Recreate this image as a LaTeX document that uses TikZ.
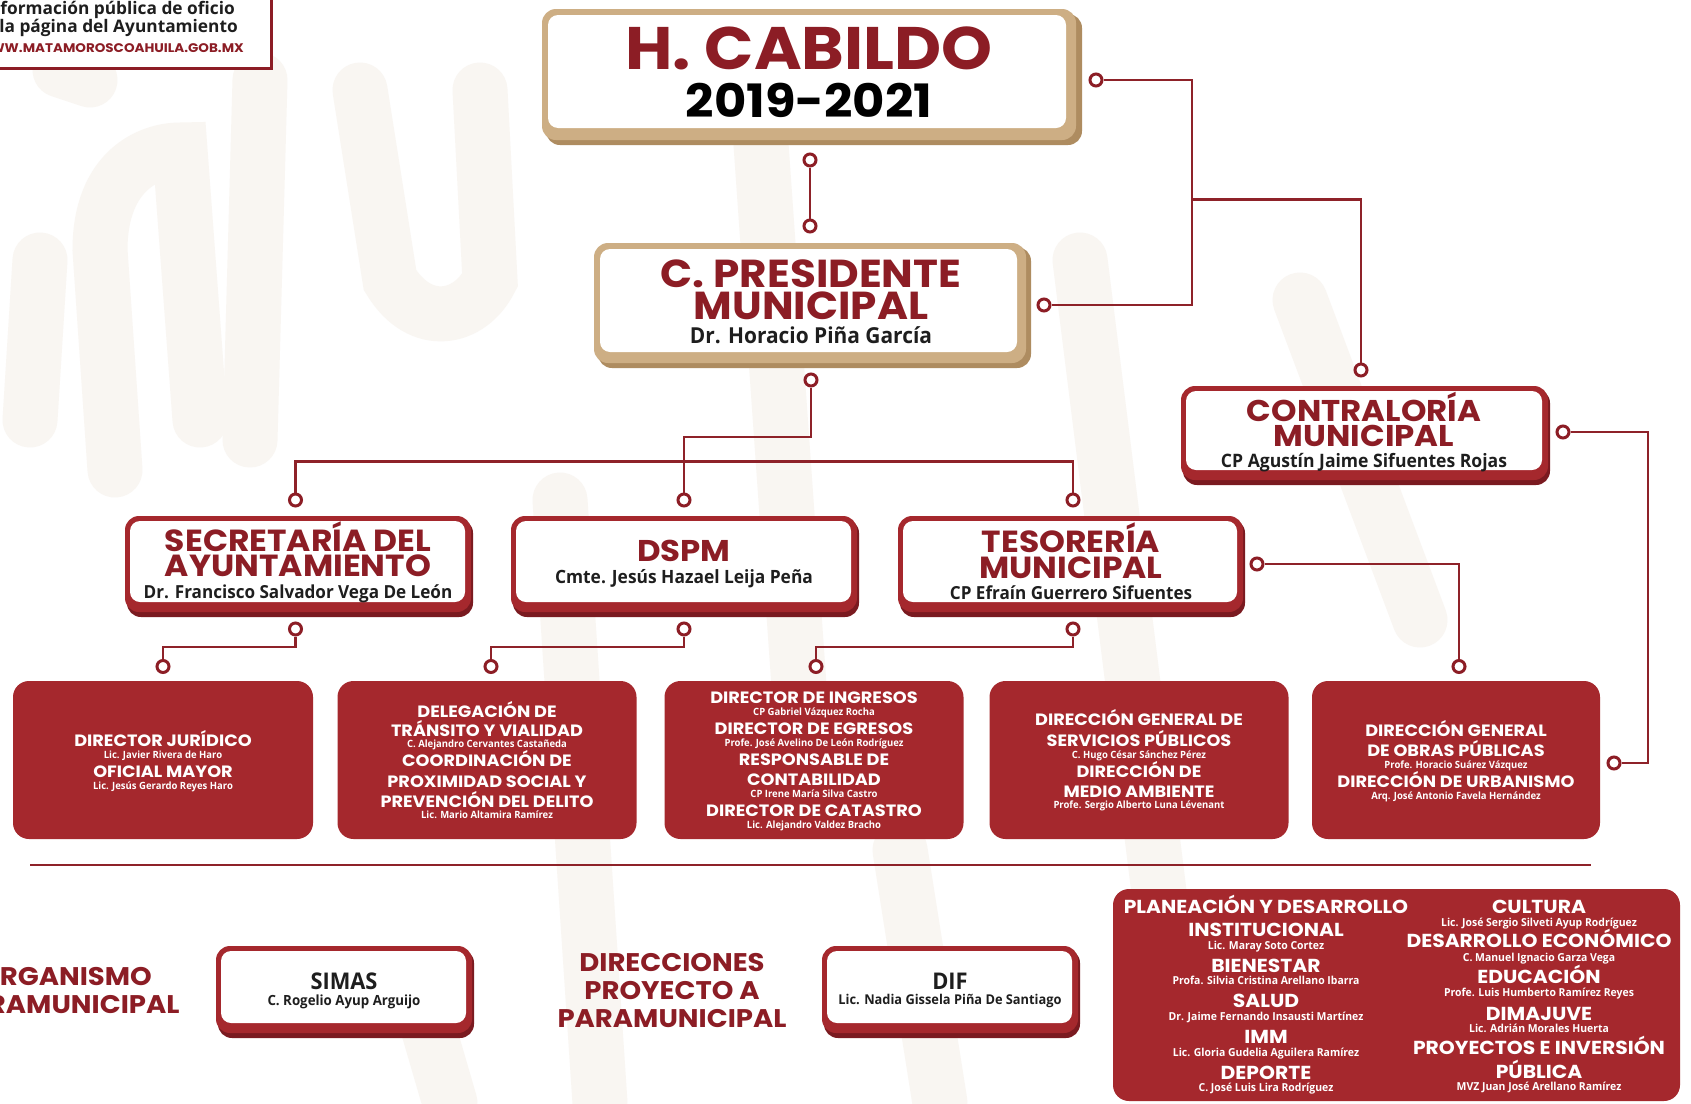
\documentclass[tikz,border=0pt]{standalone}
\usepackage{fontspec}
\setmainfont{Open Sans}
\newfontfamily\pop{Poppins}[FakeStretch=1.08]
\newfontfamily\nm{Open Sans}[FakeStretch=0.95]
\definecolor{cRed}{HTML}{A5282D}
\definecolor{cDark}{HTML}{8C1D25}
\definecolor{cLine}{HTML}{8E2229}
\definecolor{cShadow}{HTML}{7A1A20}
\definecolor{cGold}{HTML}{CDAE84}
\definecolor{cGoldD}{HTML}{AE8C60}
\definecolor{wm}{HTML}{F9F6F2}
\definecolor{cInk}{HTML}{1E1E1E}
\tikzset{
  conn/.style={draw=cLine, line width=2.6pt},
  dot/.style={circle, draw=cDark, line width=3pt, fill=white, inner sep=0pt, minimum size=12pt},
  rbox/.style={fill=cRed, rounded corners=16pt, inner sep=0pt},
  hr/.style={font=\pop\bfseries\fontsize{#1}{#1}\selectfont, text=cDark},
  hk/.style={font=\pop\bfseries\fontsize{#1}{#1}\selectfont, text=black},
  hw/.style={font=\pop\bfseries\fontsize{#1}{#1}\selectfont, text=white},
  nk/.style={font=\nm\bfseries\fontsize{#1}{#1}\selectfont, text=cInk},
  nw/.style={font=\nm\bfseries\fontsize{#1}{#1}\selectfont, text=white},
  ik/.style={font=\bfseries\fontsize{#1}{#1}\selectfont, text=cInk},
  wmk/.style={draw=wm, line width=55pt, line cap=round},
}
% #1 name, #2 x, #3 y (visual centre of caps), #4 size, #5 style, #6 text
\newcommand\tx[6]{\node[anchor=base,inner sep=0pt,#5=#4] (#1) at (#2,{#3+0.36*#4}) {#6};}
\newcommand\txr[6]{\node[anchor=base east,inner sep=0pt,#5=#4] (#1) at (#2,{#3+0.36*#4}) {#6};}
% #1 name, #2 x1, #3 y1, #4 x2, #5 y2, #6 outer colour, #7 shadow colour
\newcommand\wbox[7]{%
  \fill[#7, rounded corners=14pt] (#2+2,#3+3) rectangle (#4+2,#5+3);
  \node[fill=#6, rounded corners=14pt, inner sep=0pt, minimum width={(#4-#2)*1pt}, minimum height={(#5-#3-2)*1pt}] (#1) at ({(#2+#4)/2},{(#3+#5-2)/2}) {};
  \fill[white, rounded corners=10pt] (#2+5,#3+5) rectangle (#4-6,#5-12);
}
\begin{document}
\begin{tikzpicture}[x=1pt,y=-1pt]
\useasboundingbox (0,0) rectangle (1691,1103);
\clip (0,0) rectangle (1691,1103);
\fill[white] (0,0) rectangle (1691,1103);
% faint watermark
\draw[wmk] (115,470) -- (100,250) .. controls (100,170) and (150,150) .. (180,150) -- (200,420);
\draw[wmk] (260,80) -- (250,440);
\draw[wmk] (360,90) -- (390,280) .. controls (420,330) and (470,320) .. (490,280) -- (480,90);
\draw[wmk] (30,420) -- (40,260);
\draw[wmk] (60,70) -- (90,80);
\draw[wmk] (560,500) -- (600,1103);
\draw[wmk] (760,130) -- (800,700);
\draw[wmk] (1080,260) -- (1160,900);
\draw[wmk] (1300,300) -- (1420,620);
\draw[wmk] (420,1000) -- (450,1103);
\draw[wmk] (900,850) -- (940,1103);

% info box
\node[draw=cDark, line width=3pt, fill=white, minimum width=340pt, minimum height=100pt, anchor=south east, inner sep=0pt] (info) at (273,70) {};
\txr{inf1}{235}{8}{17.3}{ik}{Información pública de oficio}
\txr{inf2}{238}{26}{17.3}{ik}{en la página del Ayuntamiento}
\txr{inf3}{244}{48}{12.5}{hr}{WWW.MATAMOROSCOAHUILA.GOB.MX}

% H. CABILDO
\fill[cGoldD, rounded corners=14pt] (546,14) rectangle (1082,145);
\node[fill=cGold, rounded corners=14pt, inner sep=0pt, minimum width=534pt, minimum height=131pt] (cab) at (809,74.5) {};
\fill[white, rounded corners=10pt] (548,15) rectangle (1066,128);
\tx{cabA}{809}{48}{60}{hr}{H. CABILDO}
\tx{cabB}{809}{101}{46}{hk}{2019-2021}

% C. PRESIDENTE
\fill[cGoldD, rounded corners=14pt] (598,247) rectangle (1031,368);
\node[fill=cGold, rounded corners=14pt, inner sep=0pt, minimum width=432pt, minimum height=120pt] (pre) at (810,303) {};
\fill[white, rounded corners=10pt] (600,249) rectangle (1017,352);
\tx{preA}{811}{273}{39}{hr}{C. PRESIDENTE}
\tx{preB}{811}{305}{39}{hr}{MUNICIPAL}
\tx{preC}{811}{336}{22}{nk}{Dr. Horacio Piña García}

% CONTRALORIA
\wbox{con}{1181}{386}{1548}{482}{cRed}{cShadow}
\tx{conA}{1364}{411}{30}{hr}{CONTRALORÍA}
\tx{conB}{1364}{436}{30}{hr}{MUNICIPAL}
\tx{conC}{1364}{461}{18.5}{nk}{CP Agustín Jaime Sifuentes Rojas}

% second level
\wbox{sec}{125}{516}{471}{614}{cRed}{cShadow}
\tx{secA}{298}{541}{30.5}{hr}{SECRETARÍA DEL}
\tx{secB}{298}{566}{30.5}{hr}{AYUNTAMIENTO}
\tx{secC}{298}{592}{18}{nk}{Dr. Francisco Salvador Vega De León}
\wbox{dsp}{511}{516}{857}{614}{cRed}{cShadow}
\tx{dspA}{684}{551}{30}{hr}{DSPM}
\tx{dspB}{684}{577}{18.3}{nk}{Cmte. Jesús Hazael Leija Peña}
\wbox{tes}{898}{516}{1243}{614}{cRed}{cShadow}
\tx{tesA}{1071}{542}{30.5}{hr}{TESORERÍA}
\tx{tesB}{1071}{568}{30.5}{hr}{MUNICIPAL}
\tx{tesC}{1071}{593}{18}{nk}{CP Efraín Guerrero Sifuentes}

% third level red boxes
\node[rbox, minimum width=300pt, minimum height=158pt] (r1) at (163,760) {};
\node[rbox, minimum width=299pt, minimum height=158pt] (r2) at (487,760) {};
\node[rbox, minimum width=299pt, minimum height=158pt] (r3) at (814,760) {};
\node[rbox, minimum width=299pt, minimum height=158pt] (r4) at (1139,760) {};
\node[rbox, minimum width=288pt, minimum height=158pt] (r5) at (1456,760) {};

\tx{r1a}{163}{741}{16.4}{hw}{DIRECTOR JURÍDICO}
\tx{r1b}{163}{755}{10}{nw}{Lic. Javier Rivera de Haro}
\tx{r1c}{163}{772}{16.4}{hw}{OFICIAL MAYOR}
\tx{r1d}{163}{786}{10}{nw}{Lic. Jesús Gerardo Reyes Haro}

\tx{r2a}{487}{712}{16.4}{hw}{DELEGACIÓN DE}
\tx{r2b}{487}{731}{16.4}{hw}{TRÁNSITO Y VIALIDAD}
\tx{r2c}{487}{744}{10}{nw}{C. Alejandro Cervantes Castañeda}
\tx{r2d}{487}{761}{16.4}{hw}{COORDINACIÓN DE}
\tx{r2e}{487}{782}{16.4}{hw}{PROXIMIDAD SOCIAL Y}
\tx{r2f}{487}{802}{16.4}{hw}{PREVENCIÓN DEL DELITO}
\tx{r2g}{487}{815}{10}{nw}{Lic. Mario Altamira Ramírez}

\tx{r3a}{814}{698}{16.4}{hw}{DIRECTOR DE INGRESOS}
\tx{r3b}{814}{712}{10}{nw}{CP Gabriel Vázquez Rocha}
\tx{r3c}{814}{729}{16.4}{hw}{DIRECTOR DE EGRESOS}
\tx{r3d}{814}{743}{10}{nw}{Profe. José Avelino De León Rodríguez}
\tx{r3e}{814}{760}{16.4}{hw}{RESPONSABLE DE}
\tx{r3f}{814}{780}{16.4}{hw}{CONTABILIDAD}
\tx{r3g}{814}{794}{10}{nw}{CP Irene María Silva Castro}
\tx{r3h}{814}{811}{16.4}{hw}{DIRECTOR DE CATASTRO}
\tx{r3i}{814}{825}{10}{nw}{Lic. Alejandro Valdez Bracho}

\tx{r4a}{1139}{720}{16.4}{hw}{DIRECCIÓN GENERAL DE}
\tx{r4b}{1139}{741}{16.4}{hw}{SERVICIOS PÚBLICOS}
\tx{r4c}{1139}{755}{10}{nw}{C. Hugo César Sánchez Pérez}
\tx{r4d}{1139}{772}{16.4}{hw}{DIRECCIÓN DE}
\tx{r4e}{1139}{791.5}{16.4}{hw}{MEDIO AMBIENTE}
\tx{r4f}{1139}{804.5}{10}{nw}{Profe. Sergio Alberto Luna Lévenant}

\tx{r5a}{1456}{731}{16.4}{hw}{DIRECCIÓN GENERAL}
\tx{r5b}{1456}{750.6}{16.4}{hw}{DE OBRAS PÚBLICAS}
\tx{r5c}{1456}{764.6}{10}{nw}{Profe. Horacio Suárez Vázquez}
\tx{r5d}{1456}{782}{16.4}{hw}{DIRECCIÓN DE URBANISMO}
\tx{r5e}{1456}{796}{10}{nw}{Arq. José Antonio Favela Hernández}

% dots
\node[dot] (cabB0) at (810,160) {};
\node[dot] (preT) at (810,226) {};
\node[dot] (cabR) at (1096,80) {};
\node[dot] (preR) at (1044,305) {};
\node[dot] (preB0) at (811,380) {};
\node[dot] (conT) at (1361,370) {};
\node[dot] (conR) at (1563,432) {};
\node[dot] (r5R) at (1614,763) {};
\node[dot] (secT) at (295.5,500) {};
\node[dot] (dspT) at (684,500) {};
\node[dot] (tesT) at (1073,500) {};
\node[dot] (secBt) at (295.5,629) {};
\node[dot] (dspBt) at (684,629) {};
\node[dot] (tesBt) at (1073,629) {};
\node[dot] (tesR) at (1257,564) {};
\node[dot] (r1T) at (163,666.5) {};
\node[dot] (r2T) at (491,666.5) {};
\node[dot] (r3T) at (816,666.5) {};
\node[dot] (r5T) at (1459,666.5) {};

% junctions
\coordinate (jv) at (1192,199.5);
\coordinate (jc) at (1648,600);
\coordinate (jp) at (684,437);
\coordinate (bus) at (684,461.5);
\coordinate (j1) at (230,647);
\coordinate (j2) at (600,647);
\coordinate (j3) at (950,647);

% connectors
\draw[conn] (cabB0) -- (preT);
\draw[conn] (cabR) -| (jv) |- (preR);
\draw[conn] (jv) -| (conT);
\draw[conn] (conR) -| (jc) |- (r5R);
\draw[conn] (preB0) |- (jp) -- (dspT);
\draw[conn] (secT) |- (bus) -| (tesT);
\draw[conn] (secBt) |- (j1) -| (r1T);
\draw[conn] (dspBt) |- (j2) -| (r2T);
\draw[conn] (tesBt) |- (j3) -| (r3T);
\draw[conn] (tesR) -| (r5T);

% separator
\draw[cLine, line width=2.5pt] (30,865) -- (1591,865);

% bottom row
\tx{orgA}{65}{976}{25.5}{hr}{ORGANISMO}
\tx{orgB}{65}{1004}{25.5}{hr}{PARAMUNICIPAL}
\wbox{sim}{216}{946}{472}{1035}{cRed}{cShadow}
\tx{simA}{344}{981}{23}{nk}{SIMAS}
\tx{simB}{344}{1000}{14}{nk}{C. Rogelio Ayup Arguijo}
\tx{dirA}{672}{962}{25.5}{hr}{DIRECCIONES}
\tx{dirB}{672}{990}{25.5}{hr}{PROYECTO A}
\tx{dirC}{672}{1018}{25.5}{hr}{PARAMUNICIPAL}
\wbox{dif}{822}{946}{1078}{1035}{cRed}{cShadow}
\tx{difA}{950}{981}{23}{nk}{DIF}
\tx{difB}{950}{1000}{13.5}{nk}{Lic. Nadia Gissela Piña De Santiago}

\node[rbox, minimum width=567pt, minimum height=212pt] (big) at (1396.5,995) {};
\tx{bL1}{1266}{907}{18.8}{hw}{PLANEACIÓN Y DESARROLLO}
\tx{bL2}{1266}{930}{18.8}{hw}{INSTITUCIONAL}
\tx{bL3}{1266}{946}{11}{nw}{Lic. Maray Soto Cortez}
\tx{bL4}{1266}{966}{18.8}{hw}{BIENESTAR}
\tx{bL5}{1266}{981}{11}{nw}{Profa. Silvia Cristina Arellano Ibarra}
\tx{bL6}{1266}{1001}{18.8}{hw}{SALUD}
\tx{bL7}{1266}{1017}{11}{nw}{Dr. Jaime Fernando Insausti Martínez}
\tx{bL8}{1266}{1037}{18.8}{hw}{IMM}
\tx{bL9}{1266}{1052.5}{11}{nw}{Lic. Gloria Gudelia Aguilera Ramírez}
\tx{bL10}{1266}{1073}{18.8}{hw}{DEPORTE}
\tx{bL11}{1266}{1088}{11}{nw}{C. José Luis Lira Rodríguez}
\tx{bR1}{1539}{907}{18.8}{hw}{CULTURA}
\tx{bR2}{1539}{923}{11}{nw}{Lic. José Sergio Silveti Ayup Rodríguez}
\tx{bR3}{1539}{941}{18.8}{hw}{DESARROLLO ECONÓMICO}
\tx{bR4}{1539}{957.6}{11}{nw}{C. Manuel Ignacio Garza Vega}
\tx{bR5}{1539}{977}{18.8}{hw}{EDUCACIÓN}
\tx{bR6}{1539}{993}{11}{nw}{Profe. Luis Humberto Ramírez Reyes}
\tx{bR7}{1539}{1014}{18.8}{hw}{DIMAJUVE}
\tx{bR8}{1539}{1029}{11}{nw}{Lic. Adrián Morales Huerta}
\tx{bR9}{1539}{1048}{18.8}{hw}{PROYECTOS E INVERSIÓN}
\tx{bR10}{1539}{1072}{18.8}{hw}{PÚBLICA}
\tx{bR11}{1539}{1087}{11}{nw}{MVZ Juan José Arellano Ramírez}
\end{tikzpicture}
\end{document}
